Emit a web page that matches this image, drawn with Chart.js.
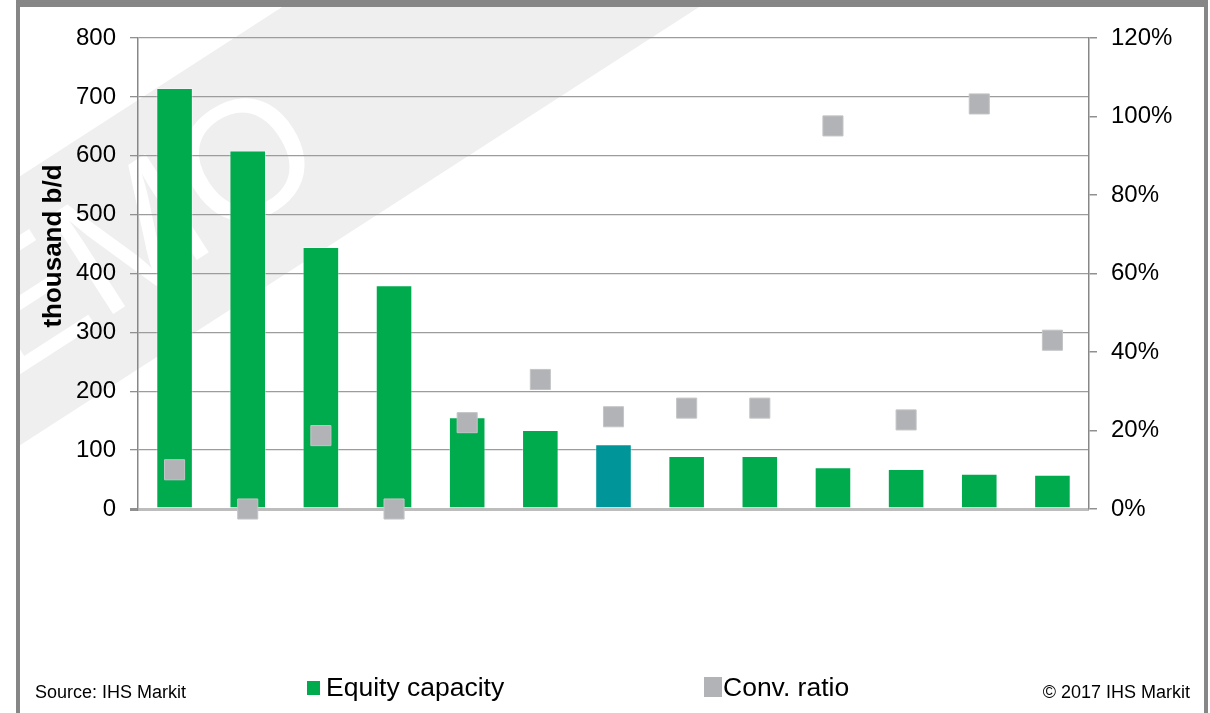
<!DOCTYPE html>
<html>
<head>
<meta charset="utf-8">
<script src="https://cdn.jsdelivr.net/npm/chart.js@4"></script>
<style>
  html, body { margin: 0; padding: 0; background: #fff; }
  canvas { display: block; }
</style>
</head>
<body>
<canvas id="chart" width="1210" height="713"></canvas>
<script>
// refiners, ranked by equity capacity
var categories = ['1', '2', '3', '4', '5', '6', '7', '8', '9', '10', '11', '12', '13'];
var equityCapacity = [715, 609, 445, 380, 156, 134, 110, 90, 90, 71, 68, 60, 58]; // thousand b/d
var convRatio = [10, 0, 18.7, 0, 22, 33, 23.5, 25.7, 25.7, 97.6, 22.7, 103.2, 43]; // %
var barColors = ['#00ab4e', '#00ab4e', '#00ab4e', '#00ab4e', '#00ab4e', '#00ab4e', '#009598',
                 '#00ab4e', '#00ab4e', '#00ab4e', '#00ab4e', '#00ab4e', '#00ab4e'];
var leftTicks = [0, 800, 100];
var rightTicks = [0, 120, 20];

Chart.defaults.font.family = '"Liberation Sans", Arial, sans-serif';
Chart.defaults.color = '#000';

// grey DEMO band behind the plot
var watermark = {
    id: 'watermark',
    beforeDraw: function(chart) {
        var c = chart.ctx;
        c.save();
        c.beginPath();
        c.rect(20, 7, 1184, 706);
        c.clip();
        c.fillStyle = '#efefef';
        c.beginPath();
        c.moveTo(293, 0);
        c.lineTo(710, 0);
        c.lineTo(710 - 1.55 * 713, 713);
        c.lineTo(293 - 1.55 * 713, 713);
        c.closePath();
        c.fill();
        c.translate(92, 272);
        c.rotate(-Math.atan(1 / 1.55));
        c.fillStyle = '#fff';
        c.font = '170px "Liberation Sans", Arial, sans-serif';
        c.textAlign = 'center';
        c.textBaseline = 'middle';
        c.fillText('DEMO', 0, 0);
        c.restore();
    }
};

// frame, axis title, legend and footer
var decorations = {
    id: 'decorations',
    afterDraw: function(chart) {
        var c = chart.ctx;
        c.save();
        c.fillStyle = '#868686';
        c.fillRect(16, 0, 1192, 7);
        c.fillRect(16, 0, 4, 713);
        c.fillRect(1204, 0, 4, 713);

        c.fillStyle = '#000';
        c.save();
        c.translate(61, 246);
        c.rotate(-Math.PI / 2);
        c.font = 'bold 26px "Liberation Sans", Arial, sans-serif';
        c.textAlign = 'center';
        c.textBaseline = 'alphabetic';
        c.fillText('thousand b/d', 0, 0);
        c.restore();

        var ds = chart.data.datasets;
        c.font = '26.5px "Liberation Sans", Arial, sans-serif';
        c.textBaseline = 'alphabetic';
        c.textAlign = 'left';
        c.fillStyle = ds[1].backgroundColor[0];
        c.fillRect(307, 681, 13, 14);
        c.fillStyle = '#000';
        c.fillText(ds[1].label, 326, 696);
        c.fillStyle = ds[0].backgroundColor;
        c.fillRect(704, 677, 18, 20);
        c.fillStyle = '#000';
        c.fillText(ds[0].label, 723, 696);

        c.font = '18px "Liberation Sans", Arial, sans-serif';
        c.fillText('Source: IHS Markit', 35, 698);
        c.textAlign = 'right';
        c.fillText('\u00a9 2017 IHS Markit', 1190, 698);
        c.restore();
    }
};

var ctx = document.getElementById('chart').getContext('2d');
var chart = new Chart(ctx, {
    data: {
        labels: categories,
        datasets: [{
            type: 'line',
            label: 'Conv. ratio',
            data: convRatio,
            yAxisID: 'y2',
            showLine: false,
            pointStyle: 'rect',
            pointRadius: 14.2,
            pointHoverRadius: 14.2,
            backgroundColor: '#b2b3b6',
            borderColor: '#c4c5c7',
            borderWidth: 1,
            clip: false,
            order: 0
        }, {
            type: 'bar',
            label: 'Equity capacity',
            data: equityCapacity,
            yAxisID: 'y',
            backgroundColor: barColors,
            borderColor: 'rgba(255,255,255,0.35)',
            borderWidth: 1,
            categoryPercentage: 1,
            barPercentage: 0.5,
            order: 1
        }]
    },
    options: {
        responsive: false,
        animation: false,
        devicePixelRatio: 1,
        layout: { padding: { left: 0, right: 0, top: 38, bottom: 204 } },
        plugins: {
            legend: { display: false },
            tooltip: { enabled: false }
        },
        scales: {
            x: { display: false },
            y: {
                position: 'left',
                min: leftTicks[0],
                max: leftTicks[1],
                ticks: { stepSize: leftTicks[2], padding: 14, font: { size: 24 } },
                grid: {
                    color: function(ctx) { return ctx.tick && ctx.tick.value === 0 ? '#bdbdbd' : '#9c9c9c'; },
                    lineWidth: function(ctx) { return ctx.tick && ctx.tick.value === 0 ? 3 : 1.3; },
                    tickLength: 8,
                    tickColor: '#909090'
                },
                border: { color: '#878787', width: 1.5 },
                afterFit: function(scale) { scale.width = 138; }
            },
            y2: {
                position: 'right',
                min: rightTicks[0],
                max: rightTicks[1],
                ticks: {
                    stepSize: rightTicks[2],
                    padding: 14,
                    font: { size: 24 },
                    callback: function(v) { return v + '%'; }
                },
                grid: { drawOnChartArea: false, tickLength: 8, color: '#909090', lineWidth: 1.5 },
                border: { color: '#878787', width: 1.5 },
                afterFit: function(scale) { scale.width = 121; }
            }
        }
    },
    plugins: [watermark, decorations]
});
</script>
</body>
</html>
